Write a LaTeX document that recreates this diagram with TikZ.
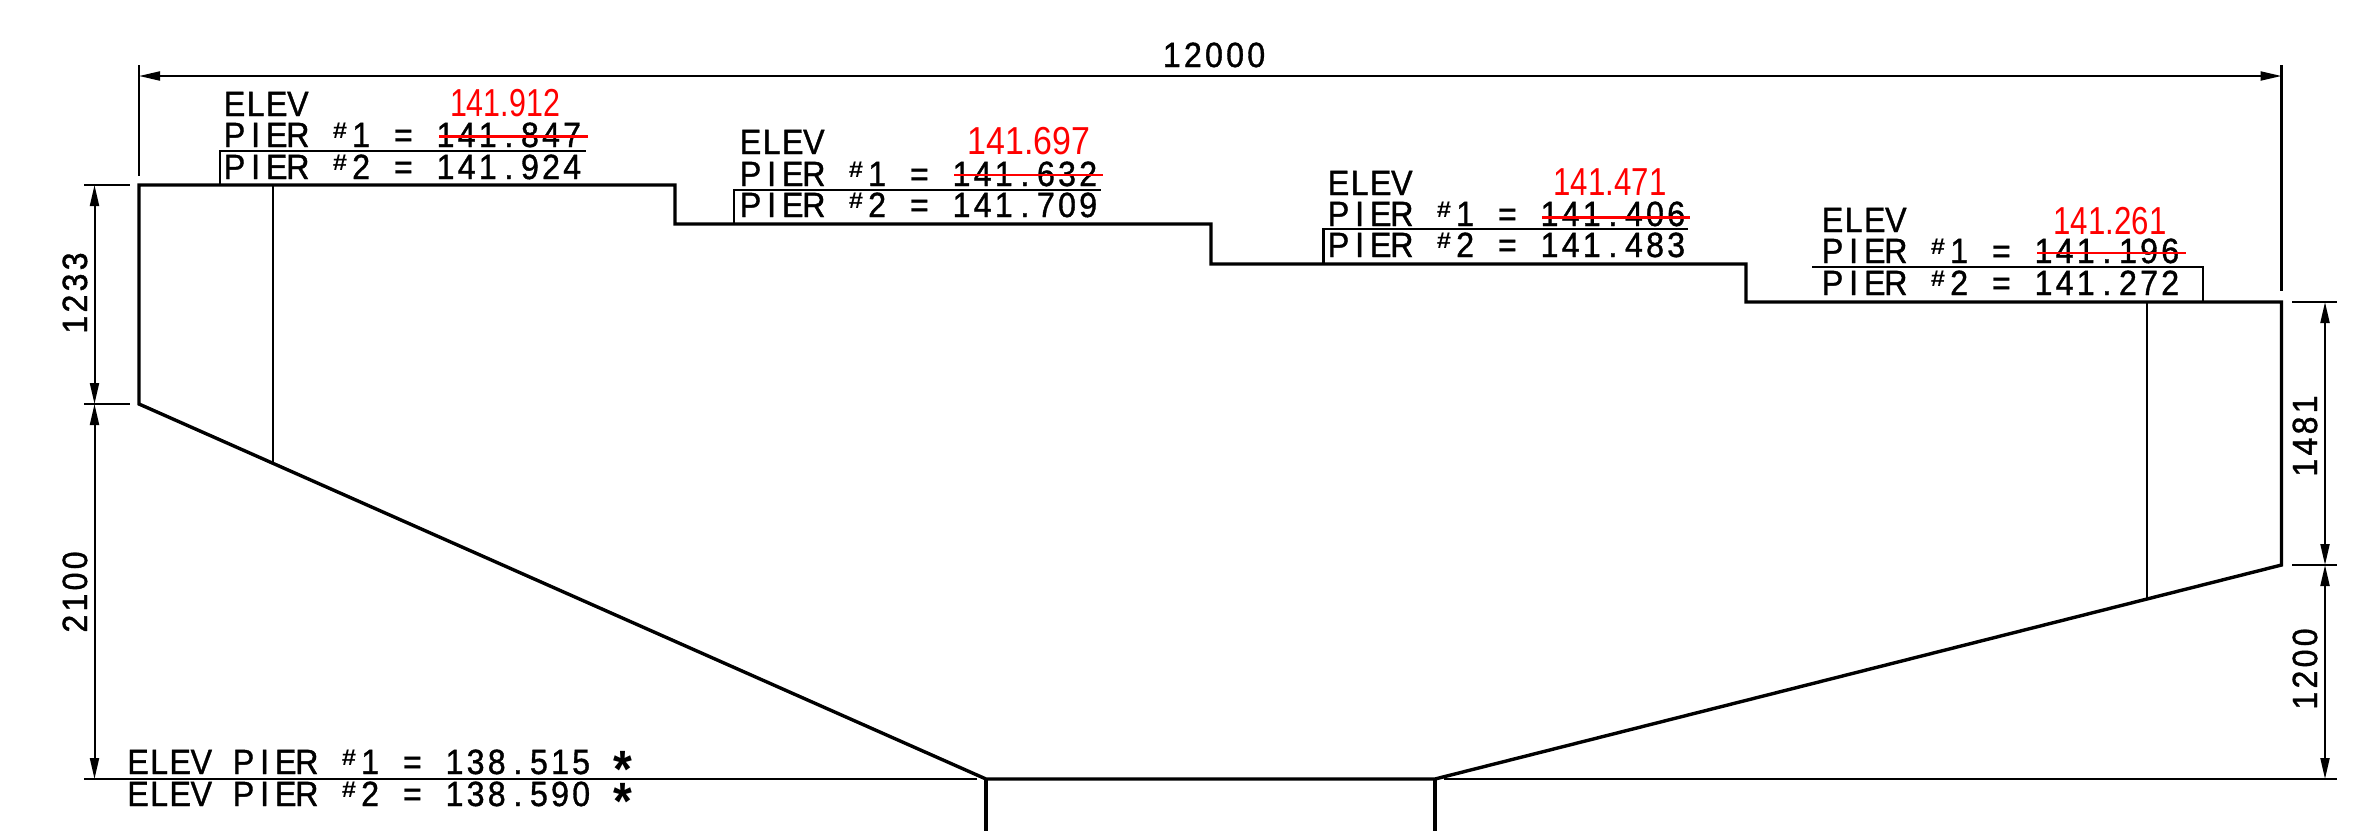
\documentclass[tikz,border=0pt]{standalone}
\usepackage{fontspec}
\usepackage{graphicx}
\usetikzlibrary{arrows.meta}
\newfontfamily\cadsans[FakeBold=1.1]{Liberation Sans}
\newfontfamily\cadbold{Liberation Sans Bold}
\newfontfamily\redsans{Liberation Sans}
% fixed-pitch stick lettering: every character sits in a slot of equal width
\newcommand{\cadslot}[1]{\makebox[21.1pt][c]{\scalebox{.92}[1]{#1}}}
\def\cadloop#1{\ifx#1\relax\else\cadslot{#1}\expandafter\cadloop\fi}
\newcommand{\cadstr}[1]{\cadloop#1\relax}
\newcommand{\cadhash}{\raisebox{8.5pt}{\scalebox{.8}[.65]{\cadbold\#}}}
\newcommand{\cadstar}{\raisebox{-13pt}{\scalebox{1.5}{\cadbold*}}}
\newcommand{\redfig}[2]{\scalebox{#1}[1]{#2}}
\definecolor{cadred}{RGB}{255,0,0}
\tikzset{
  x=1pt,y=-1pt,
  deck/.style={line width=3.4pt,line join=miter},
  thin line/.style={line width=2.2pt},
  pier line/.style={line width=3.2pt},
  base line/.style={line width=2.8pt},
  dim/.style={line width=2pt,{Triangle[length=21pt,width=9pt]}-{Triangle[length=21pt,width=9pt]}},
  cad/.style={inner sep=0pt,outer sep=0pt,anchor=base west,font=\cadsans\fontsize{35}{35}\selectfont},
  dimtxt/.style={inner sep=0pt,outer sep=0pt,anchor=base,font=\cadsans\fontsize{35}{35}\selectfont},
  redtxt/.style={inner sep=0pt,outer sep=0pt,anchor=base,text=cadred,font=\redsans\fontsize{39}{39}\selectfont},
  strike/.style={draw=cadred,line width=2.6pt},
}
\begin{document}
\begin{tikzpicture}
\useasboundingbox (0,0) rectangle (2353,831);
% outline points
\coordinate (tl) at (139,185);
\coordinate (s1a) at (675,185);
\coordinate (s1b) at (675,224);
\coordinate (s2a) at (1211,224);
\coordinate (s2b) at (1211,264);
\coordinate (s3a) at (1746,264);
\coordinate (s3b) at (1746,302);
\coordinate (tr) at (2281.5,302);
\coordinate (br) at (2281.5,565);
\coordinate (bl) at (139,404);
\coordinate (pl) at (986,779);
\coordinate (pr) at (1435,779);
\draw[deck] (bl) -- (tl) -- (s1a) -- (s1b) -- (s2a) -- (s2b) -- (s3a) -- (s3b) -- (tr) -- (br) -- (pr) -- (pl) -- cycle;
% inner verticals
\coordinate (il) at (273,185);
\coordinate (ilb) at (273,463);
\coordinate (ir) at (2147,302);
\coordinate (irb) at (2147,598);
\draw[thin line] (il) -- (ilb);
\draw[thin line] (ir) -- (irb);
% pier verticals
\coordinate (pld) at (986,831);
\coordinate (prd) at (1435,831);
\draw[pier line] (pl) -- (pld);
\draw[pier line] (pr) -- (prd);
% base line
\coordinate (b0) at (84,779);
\coordinate (b1) at (977,779);
\coordinate (b2) at (1444,779);
\coordinate (b3) at (2337,779);
\draw[base line] (b0) -- (b1);
\draw[base line] (b2) -- (b3);
% overall dimension
\coordinate (e1a) at (139,65);
\coordinate (e1b) at (139,176);
\coordinate (e2a) at (2281.5,65);
\coordinate (e2b) at (2281.5,291);
\coordinate (d1) at (139,76);
\coordinate (d2) at (2281.5,76);
\draw[thin line] (e1a) -- (e1b);
\draw[thin line] (e2a) -- (e2b);
\draw[dim] (d1) -- (d2);
\node[dimtxt] (t12000) at (1214,67) {\cadstr{12000}};
% left dimensions
\coordinate (lt1a) at (84,185);
\coordinate (lt1b) at (130,185);
\coordinate (lt2a) at (84,404);
\coordinate (lt2b) at (130,404);
\draw[thin line] (lt1a) -- (lt1b);
\draw[thin line] (lt2a) -- (lt2b);
\coordinate (ld1) at (94.5,185);
\coordinate (ld2) at (94.5,404);
\coordinate (ld3) at (94.5,779);
\draw[dim] (ld1) -- (ld2);
\draw[dim] (ld2) -- (ld3);
\node[dimtxt,rotate=90] (t1233) at (87,293) {\cadstr{1233}};
\node[dimtxt,rotate=90] (t2100) at (87,592) {\cadstr{2100}};
% right dimensions
\coordinate (rt1a) at (2292,302);
\coordinate (rt1b) at (2337,302);
\coordinate (rt2a) at (2292,565);
\coordinate (rt2b) at (2337,565);
\draw[thin line] (rt1a) -- (rt1b);
\draw[thin line] (rt2a) -- (rt2b);
\coordinate (rd1) at (2325,302);
\coordinate (rd2) at (2325,565);
\coordinate (rd3) at (2325,779);
\draw[dim] (rd1) -- (rd2);
\draw[dim] (rd2) -- (rd3);
\node[dimtxt,rotate=90] (t1481) at (2317,436) {\cadstr{1481}};
\node[dimtxt,rotate=90] (t1200) at (2317,669) {\cadstr{1200}};
% block 1
\node[cad] (e1) at (224,116) {\cadstr{ELEV}};
\node[cad] (p11) at (224,147) {\cadstr{PIER~\cadhash 1~=~141.847}};
\node[cad] (p12) at (224,179) {\cadstr{PIER~\cadhash 2~=~141.924}};
\node[redtxt] (r1) at (505,116.5) {\redfig{.78}{141.912}};
\coordinate (k1a) at (220,185);\coordinate (k1b) at (220,151);\coordinate (k1c) at (586,151);
\draw[thin line] (k1a) -- (k1b) -- (k1c);
\coordinate (x1a) at (439,136.7);\coordinate (x1b) at (588,136.7);
\draw[strike] (x1a) -- (x1b);
% block 2
\node[cad] (e2) at (740,154) {\cadstr{ELEV}};
\node[cad] (p21) at (740,186) {\cadstr{PIER~\cadhash 1~=~141.632}};
\node[cad] (p22) at (740,217) {\cadstr{PIER~\cadhash 2~=~141.709}};
\node[redtxt] (r2) at (1029,154) {\redfig{.87}{141.697}};
\coordinate (k2a) at (734,224);\coordinate (k2b) at (734,190);\coordinate (k2c) at (1101,190);
\draw[thin line] (k2a) -- (k2b) -- (k2c);
\coordinate (x2a) at (954,175);\coordinate (x2b) at (1103,175);
\draw[strike] (x2a) -- (x2b);
% block 3
\node[cad] (e3) at (1328,195) {\cadstr{ELEV}};
\node[cad] (p31) at (1328,226) {\cadstr{PIER~\cadhash 1~=~141.406}};
\node[cad] (p32) at (1328,257) {\cadstr{PIER~\cadhash 2~=~141.483}};
\node[redtxt] (r3) at (1610,195) {\redfig{.80}{141.471}};
\coordinate (k3a) at (1323.5,264);\coordinate (k3b) at (1323.5,229);\coordinate (k3c) at (1688,229);
\draw[thin line] (k3a) -- (k3b) -- (k3c);
\coordinate (x3a) at (1542,217.5);\coordinate (x3b) at (1690,217.5);
\draw[strike] (x3a) -- (x3b);
% block 4
\node[cad] (e4) at (1822,232) {\cadstr{ELEV}};
\node[cad] (p41) at (1822,263) {\cadstr{PIER~\cadhash 1~=~141.196}};
\node[cad] (p42) at (1822,295) {\cadstr{PIER~\cadhash 2~=~141.272}};
\node[redtxt] (r4) at (2110,234) {\redfig{.80}{141.261}};
\coordinate (k4a) at (1812,267);\coordinate (k4b) at (2203,267);\coordinate (k4c) at (2203,302);
\draw[thin line] (k4a) -- (k4b) -- (k4c);
\coordinate (x4a) at (2037,253);\coordinate (x4b) at (2186,253);
\draw[strike] (x4a) -- (x4b);
% bottom labels
\node[cad] (b1t) at (127.5,774) {\cadstr{ELEV~PIER~\cadhash 1~=~138.515~\cadstar}};
\node[cad] (b2t) at (127.5,806) {\cadstr{ELEV~PIER~\cadhash 2~=~138.590~\cadstar}};
\end{tikzpicture}
\end{document}
